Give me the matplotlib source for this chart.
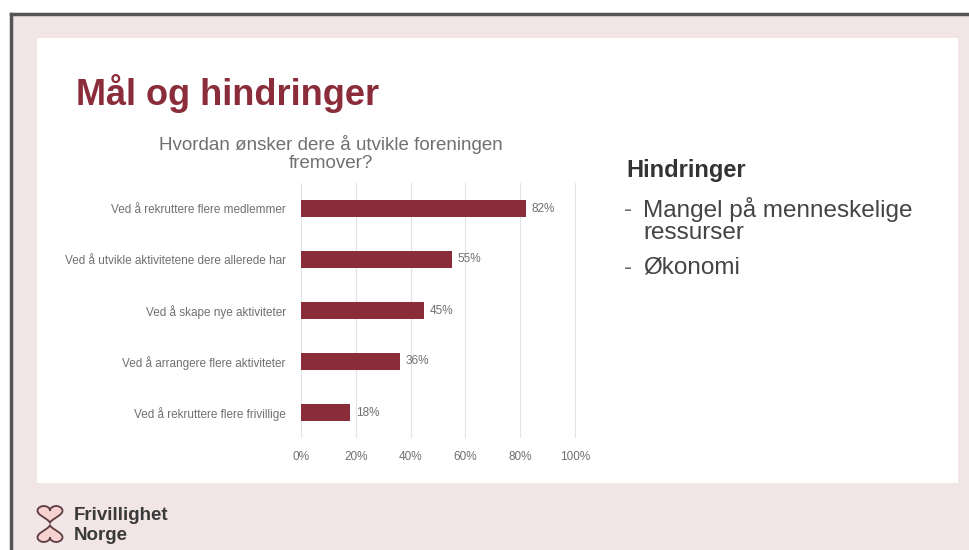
import numpy as np
import matplotlib
matplotlib.use("Agg")
import matplotlib.pyplot as plt
from matplotlib.patches import Rectangle

# --------------------------
# DADOS
# --------------------------
kategorier = [
    "Ved å rekruttere flere medlemmer",
    "Ved å utvikle aktivitetene dere allerede har",
    "Ved å skape nye aktiviteter",
    "Ved å arrangere flere aktiviteter",
    "Ved å rekruttere flere frivillige",
]
andel = [82, 55, 45, 36, 18]
xticks = [0, 20, 40, 60, 80, 100]

tittel_diagram = ["Hvordan ønsker dere å utvikle foreningen", "fremover?"]
hindringer = [["Mangel på menneskelige", "ressurser"], ["Økonomi"]]

RED = "#8b2c3a"
GRAY = "#707070"
PINK = "#f2e5e6"

plt.rcParams["font.family"] = ["Liberation Sans", "DejaVu Sans"]

W, H = 970, 550
fig = plt.figure(figsize=(W / 100, H / 100), dpi=100)
fig.patch.set_facecolor("white")


def px(x, y):
    return x / W, 1 - y / H


# --------------------------
# FUNDO DO SLIDE
# --------------------------
fig.patches.append(Rectangle(px(11, 550), (W - 11) / W, (550 - 14) / H,
                             transform=fig.transFigure, facecolor=PINK,
                             edgecolor="none", zorder=0))
fig.patches.append(Rectangle(px(37, 483), (958 - 37) / W, (483 - 38) / H,
                             transform=fig.transFigure, facecolor="white",
                             edgecolor="none", zorder=1))
fig.lines.append(plt.Line2D([11 / W, 1], [1 - 14 / H, 1 - 14 / H],
                            transform=fig.transFigure, color="#555555", lw=2.5, zorder=2))
fig.lines.append(plt.Line2D([11 / W, 11 / W], [0, 1 - 14 / H],
                            transform=fig.transFigure, color="#555555", lw=2.5, zorder=2))

# --------------------------
# TÍTULOS E TEXTO
# --------------------------
fig.text(*px(76, 105), "Mål og hindringer", color=RED, fontsize=26,
         fontweight="bold", va="baseline", ha="left")
fig.text(*px(331, 145), tittel_diagram[0], color=GRAY, fontsize=13.5,
         ha="center", va="center")
fig.text(*px(331, 163), tittel_diagram[1], color=GRAY, fontsize=13.5,
         ha="center", va="center")

fig.text(*px(626, 170), "Hindringer", color="#333333", fontsize=17,
         fontweight="bold", va="center")
linje_y = [[210, 233], [268]]
for punkt, ys in zip(hindringer, linje_y):
    fig.text(*px(624, ys[0]), "-", color="#666666", fontsize=17.5, va="center")
    for linje, y in zip(punkt, ys):
        fig.text(*px(643, y), linje, color="#444444", fontsize=17.5, va="center")

# --------------------------
# GRÁFICO DE BARRAS
# --------------------------
ax = fig.add_axes([301 / W, 1 - 438 / H, (576 - 301) / W, (438 - 183) / H])
ax.set_zorder(3)
ypos = np.arange(len(kategorier))
ax.barh(ypos, andel, height=0.33, color=RED, zorder=3)
ax.set_xlim(0, 100.4)
ax.set_ylim(len(kategorier) - 0.5, -0.5)
ax.set_yticks(ypos)
ax.set_yticklabels(kategorier, fontsize=8.5, color=GRAY)
ax.set_xticks(xticks)
ax.set_xticklabels([f"{t}%" for t in xticks], fontsize=8.5, color=GRAY)
ax.tick_params(length=0)
ax.tick_params(axis="x", pad=9)
ax.tick_params(axis="y", pad=11)
ax.grid(axis="x", color="#e3e3e3", lw=0.8, zorder=0)
for s in ax.spines.values():
    s.set_visible(False)
ax.patch.set_alpha(0)
for y, v in zip(ypos, andel):
    ax.text(v + 2, y, f"{v}%", va="center", ha="left", fontsize=8.5, color=GRAY)

# --------------------------
# LOGO (dois corações)
# --------------------------
t = np.linspace(0, 2 * np.pi, 300)
hx = 16 * np.sin(t) ** 3
hy = 13 * np.cos(t) - 5 * np.cos(2 * t) - 2 * np.cos(3 * t) - np.cos(4 * t)
s = 12.5 / 16
logo_ax = fig.add_axes([0, 0, 1, 1], zorder=4)
logo_ax.set_xlim(0, W)
logo_ax.set_ylim(H, 0)
logo_ax.axis("off")
# coração de cima (ponta para baixo) e de baixo (ponta para cima)
for cy, sign in [(513, -1), (535, 1)]:
    xs = 50 + hx * s
    ys = cy + sign * hy * s * 0.75
    logo_ax.fill(xs, ys, color="#f7d0d0", lw=0)
    logo_ax.plot(xs, ys, color="#5a3c40", lw=1.3)

fig.text(*px(74, 515), "Frivillighet", color="#3a3a3a", fontsize=13.5,
         fontweight="bold", va="center")
fig.text(*px(74, 536), "Norge", color="#3a3a3a", fontsize=13.5,
         fontweight="bold", va="center")

fig.savefig("out.png", dpi=100)
